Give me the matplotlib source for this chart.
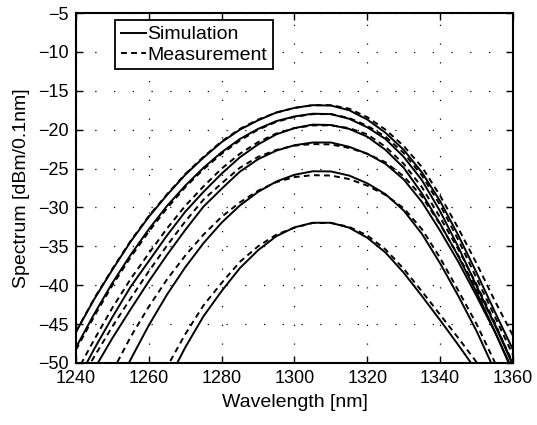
import numpy as np
import matplotlib
matplotlib.use("Agg")
import matplotlib.pyplot as plt

plt.rcParams['font.family'] = ['Liberation Sans', 'DejaVu Sans']
plt.rcParams['axes.unicode_minus'] = True

wavelength = np.arange(1240, 1361, 5)

# simulation curves (top to bottom)
sim1 = [-46.0, -41.8, -38.0, -34.4, -31.2, -28.4, -25.8, -23.6, -21.6, -20.0, -18.8, -17.8, -17.2,
        -16.85, -16.9, -17.5, -18.7, -20.4, -22.6, -25.5, -29.2, -33.6, -38.4, -43.4, -48.3]
sim2 = [-48.0, -43.7, -39.7, -36.1, -32.8, -29.8, -27.2, -24.9, -22.9, -21.2, -19.9, -18.9, -18.3,
        -17.95, -18.0, -18.6, -19.7, -21.2, -23.5, -26.5, -30.5, -35.1, -40.1, -45.1, -50.3]
sim3 = [-52.6, -48.2, -44.1, -40.2, -36.9, -33.6, -30.55, -28.0, -25.65, -23.55, -21.9, -20.6, -19.8,
        -19.35, -19.4, -19.9, -20.9, -22.6, -24.9, -28.2, -32.1, -36.3, -40.9, -45.9, -51.3]
sim4 = [-54.7, -50.8, -46.8, -43.1, -39.5, -36.1, -32.9, -29.9, -27.6, -25.4, -23.8, -22.7, -22.0,
        -21.65, -21.65, -22.2, -23.1, -24.4, -26.4, -29.3, -33.0, -37.0, -41.4, -46.0, -51.0]
sim5 = [-65.4, -59.7, -54.4, -49.55, -45.15, -41.2, -37.7, -34.6, -31.95, -29.75, -28.0, -26.67, -25.8,
        -25.35, -25.37, -25.9, -26.9, -28.3, -30.4, -33.4, -37.2, -41.4, -45.9, -51.0, -56.5]
sim6 = [-85.2, -77.6, -70.6, -64.1, -58.3, -52.5, -48.0, -44.0, -40.75, -37.8, -35.5, -33.7, -32.56,
        -31.97, -31.97, -32.6, -33.9, -35.8, -38.4, -41.4, -44.5, -47.7, -51.0, -54.5, -58.0]

# measured curves
meas1 = [-46.0, -41.7, -37.9, -34.3, -31.1, -28.3, -25.7, -23.5, -21.5, -19.9, -18.7, -17.8, -17.2,
         -16.85, -16.85, -17.3, -18.4, -20.0, -22.1, -24.8, -28.5, -32.7, -37.2, -42.0, -46.5]
meas2 = [-48.3, -44.0, -40.0, -36.4, -33.1, -30.1, -27.4, -25.1, -23.1, -21.4, -20.0, -19.0, -18.35,
         -18.0, -18.0, -18.5, -19.5, -20.9, -23.0, -25.9, -29.7, -34.2, -39.1, -44.0, -49.0]
meas3 = [-51.3, -47.0, -42.9, -39.2, -35.9, -32.7, -29.8, -27.3, -25.0, -23.1, -21.6, -20.5, -19.8,
         -19.45, -19.45, -19.8, -20.6, -22.2, -24.4, -27.4, -31.3, -35.4, -39.9, -44.8, -50.2]
meas4 = [-53.1, -49.2, -45.3, -41.7, -38.2, -34.9, -31.8, -29.0, -26.9, -24.9, -23.5, -22.6, -22.05,
         -21.85, -21.9, -22.35, -23.1, -24.2, -26.0, -28.6, -32.2, -36.2, -40.5, -45.0, -50.0]
meas5 = [-61.4, -56.0, -51.1, -46.65, -42.75, -39.25, -36.2, -33.5, -31.2, -29.35, -27.85, -26.75, -26.1,
         -25.85, -25.9, -26.35, -27.2, -28.4, -30.1, -32.8, -36.5, -40.7, -45.0, -49.9, -55.3]
meas6 = [-82.2, -74.8, -68.0, -61.7, -56.1, -50.5, -46.3, -42.6, -39.7, -37.0, -35.0, -33.5, -32.6,
         -32.0, -32.0, -32.5, -33.6, -35.4, -37.9, -40.8, -43.8, -46.8, -49.9, -53.3, -56.8]

sims = [sim1, sim2, sim3, sim4, sim5, sim6]
meas = [meas1, meas2, meas3, meas4, meas5, meas6]

fig = plt.figure(figsize=(5.37, 4.25), dpi=100)
ax = fig.add_axes([0.1415, 0.1459, 0.8138, 0.8235])

for i, s in enumerate(sims):
    ax.plot(wavelength, s, color='black', lw=1.4, label='Simulation' if i == 0 else None)
for i, m in enumerate(meas):
    ax.plot(wavelength, m, color='black', lw=1.4, linestyle=(0, (3.0, 2.2)),
            label='Measurement' if i == 0 else None)

ax.set_xlim(1240, 1360)
ax.set_ylim(-50, -5)
ax.set_xticks(np.arange(1240, 1361, 20))
ax.set_yticks(np.arange(-50, -4, 5))
ax.grid(True, linestyle=(0, (1, 14)), color='black', lw=0.9)
ax.tick_params(direction='in', top=True, right=True, labelsize=13, length=5, width=1, pad=5)
for sp in ax.spines.values():
    sp.set_linewidth(1.5)

ax.set_xlabel('Wavelength [nm]', fontsize=14, labelpad=5)
ax.set_ylabel('Spectrum [dBm/0.1nm]', fontsize=14, labelpad=6)

leg = ax.legend(loc='upper left', bbox_to_anchor=(0.089, 0.98), fontsize=14, frameon=True,
                fancybox=False, edgecolor='black', handlelength=1.3, handletextpad=0.05,
                borderpad=0.3, labelspacing=0.13, borderaxespad=0, framealpha=1)
leg.get_frame().set_linewidth(1.3)

fig.savefig('out.png', dpi=100)
